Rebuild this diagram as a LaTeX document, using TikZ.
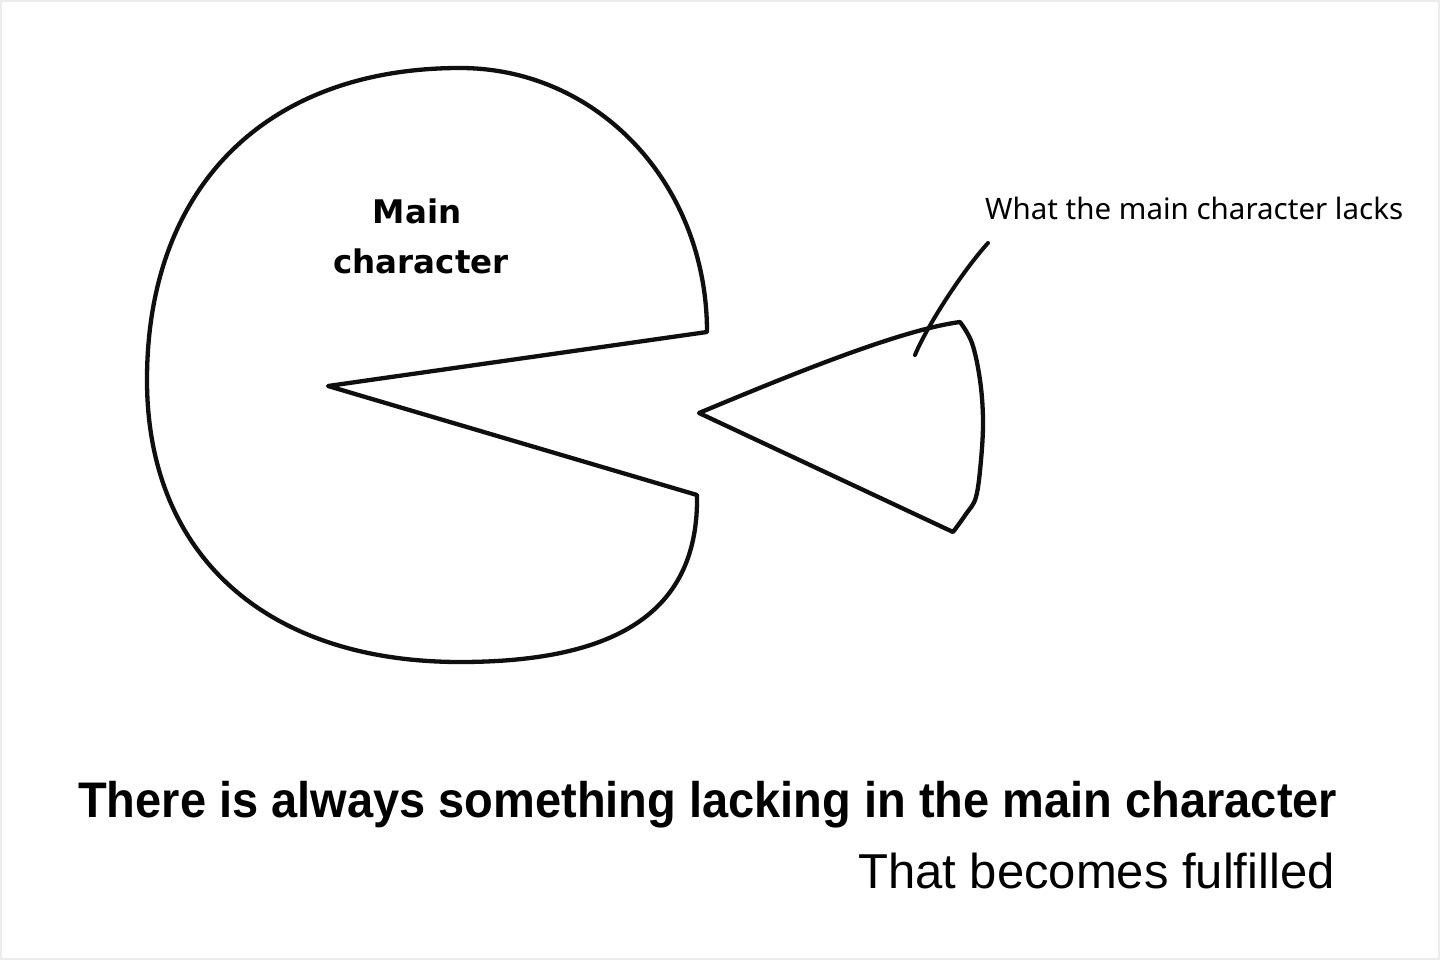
\documentclass[tikz,border=0pt]{standalone}
\usepackage{fontspec}
\setmainfont{Liberation Sans}
\newfontfamily\headfont{DejaVu Sans}
\newfontfamily\notefont{Noto Sans}
\newfontfamily\captionfont[FakeStretch=0.94]{Liberation Sans}
\usetikzlibrary{positioning}
\definecolor{inkblack}{RGB}{15,15,15}
\definecolor{framegray}{RGB}{236,236,236}
\tikzset{
  sketch/.style={draw=inkblack, line width=4.3pt, line join=round, line cap=round},
  leader/.style={draw=inkblack, line width=4pt, line cap=round},
  bodylabel/.style={inner sep=0pt, anchor=base, font=\headfont\bfseries\fontsize{32.5}{40}\selectfont},
  notelabel/.style={inner sep=0pt, anchor=base west, font=\notefont\fontsize{29.5}{36}\selectfont},
  titleline/.style={inner sep=0pt, anchor=base west, font=\captionfont\bfseries\fontsize{50}{58}\selectfont},
  subline/.style={inner sep=0pt, anchor=base east, font=\fontsize{49}{56}\selectfont}
}
\begin{document}
\begin{tikzpicture}[x=1pt, y=-1pt]
\useasboundingbox (0,0) rectangle (1440,960);
\fill[white] (0,0) rectangle (1440,960);
\draw[framegray, line width=4pt] (0,0) rectangle (1440,960);

% Main character with its open mouth
\draw[sketch] (328,386) -- (697,495)
  .. controls (699,609) and (621,662) .. (460,662)
  .. controls (266,662) and (147,555) .. (147,380)
  .. controls (147,187) and (266,68) .. (460,68)
  .. controls (598,68) and (707,184) .. (707,332)
  -- cycle;
\node[bodylabel] (mainlbl) at (417,223) {Main};
\node[bodylabel] (charlbl) at (421,273) {character};

% The missing piece
\draw[sketch] (699,413) .. controls (790,375) and (900,330) .. (960,322)
  -- plot[smooth, tension=0.6] coordinates {(960,322) (972,343) (980,380) (983,420) (981,460) (976,497) (966,514) (953,532)}
  -- cycle;

% Label for the piece
\node[notelabel] (lacks) at (985,219) {What the main character lacks};
\coordinate (leadstart) at (988,243);
\coordinate (leadtip) at (915,355);
\draw[leader] (leadstart) .. controls (960,274) and (925,330) .. (leadtip);

% Caption
\node[titleline] (caption) at (78,817) {There is always something lacking in the main character};
\node[subline] (fulfil) at (1335,888) {That becomes fulfilled};

\end{tikzpicture}
\end{document}
